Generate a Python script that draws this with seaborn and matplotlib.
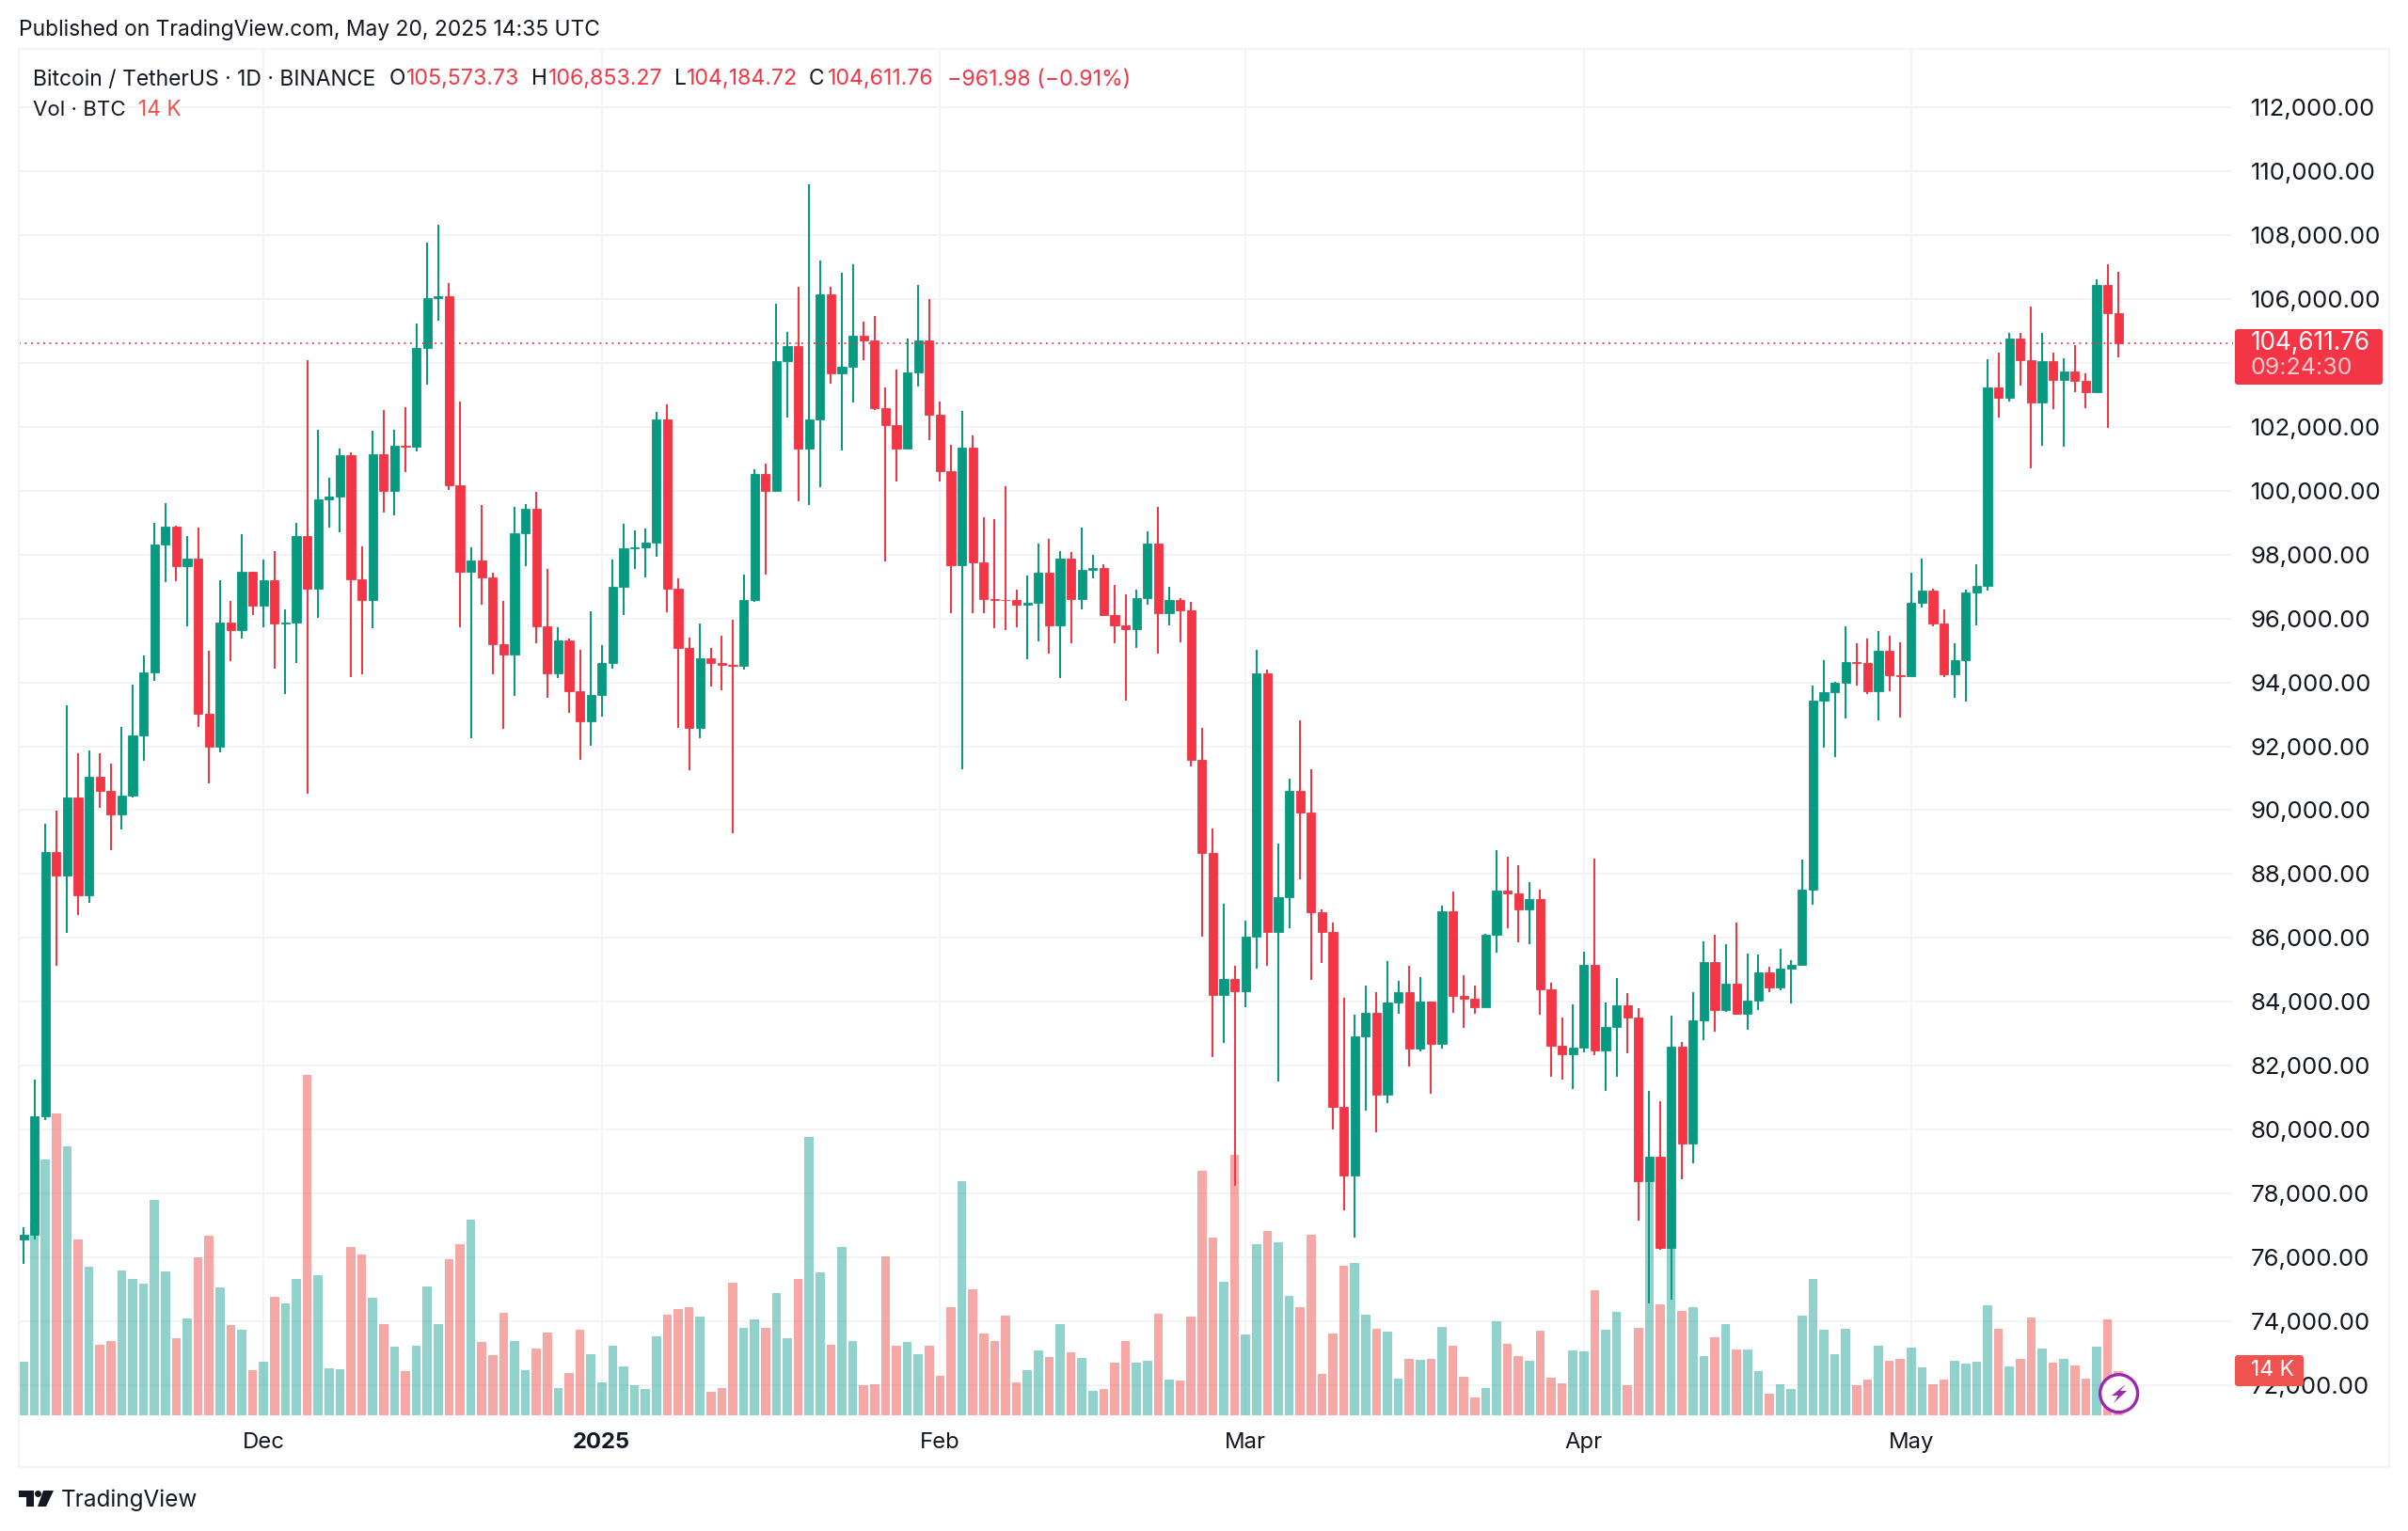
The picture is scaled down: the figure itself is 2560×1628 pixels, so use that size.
import matplotlib
matplotlib.use("Agg")
import matplotlib.pyplot as plt
import matplotlib.dates as mdates
from matplotlib.patches import FancyBboxPatch, Polygon, Ellipse, Rectangle
import numpy as np
import pandas as pd
import seaborn as sns

first_day = "2024-11-09"

opens = [76565,76717,80425,88681,87964,90405,87323,91046,90604,89871,90466,92327,94311,98324,98889,97653,97882,93014,91976,95868,95639,97470,96402,97195,95837,95866,98569,96936,99729,99804,101102,97241,96570,101132,99988,101407,101380,104459,106031,106090,100186,97455,97806,97272,95181,94860,98660,99423,95761,94296,95303,93731,92785,93594,94597,97000,98185,98240,98374,102245,96930,95069,92587,94745,94610,94560,94520,96566,100520,99993,104053,104539,101315,102245,106144,103675,103891,104863,104714,102583,102057,101315,103716,104714,102394,100600,97672,101342,97767,96607,96593,96566,96445,96485,97443,95770,97875,96607,97510,97578,96108,95784,95662,96647,98333,96175,96566,96256,91574,88656,84201,84698,84322,86052,94269,86173,87271,90597,89920,86789,86173,80710,78572,82907,83659,81086,83975,84306,82530,84005,82666,86820,84186,84096,83825,86097,87482,87392,86895,87226,84382,82621,82365,82560,85150,82485,83209,83900,83494,78392,79144,76285,82606,79566,83403,85255,83735,84562,83613,84036,84924,84442,85044,85150,87497,93438,93690,93984,94634,94610,93732,95002,94225,94200,96481,96880,95841,94246,94708,96817,97017,103240,102925,104772,104080,102757,104070,103460,103723,103429,103093,106430,105573.73]
closes = [76717,80425,88681,87964,90405,87323,91046,90604,89871,90466,92327,94311,98324,98889,97653,97882,93014,91976,95868,95639,97470,96402,97195,95837,95866,98569,96936,99729,99804,101102,97241,96570,101132,99988,101407,101380,104459,106031,106090,100186,97455,97806,97272,95181,94860,98660,99423,95761,94296,95303,93731,92785,93594,94597,97000,98185,98240,98374,102245,96930,95069,92587,94745,94610,94560,94520,96566,100520,99993,104053,104539,101315,102245,106144,103675,103891,104863,104714,102583,102057,101315,103716,104714,102394,100600,97672,101342,97767,96607,96593,96566,96445,96485,97443,95770,97875,96607,97510,97578,96108,95784,95662,96647,98333,96175,96566,96256,91574,88656,84201,84698,84322,86052,94269,86173,87271,90597,89920,86789,86173,80710,78572,82907,83659,81086,83975,84306,82530,84005,82666,86820,84186,84096,83825,86097,87482,87392,86895,87226,84382,82621,82365,82560,85150,82485,83209,83900,83494,78392,79144,76285,82606,79566,83403,85255,83735,84562,83613,84036,84924,84442,85044,85150,87497,93438,93690,93984,94634,94610,93732,95002,94225,94200,96481,96880,95841,94246,94708,96817,97017,103240,102925,104772,104080,102757,104070,103460,103723,103429,103093,106430,105573.73,104611.76]
highs = [76946,81555,89566,89978,93273,91793,91870,91793,91456,92602,93915,94845,99000,99607,98919,98584,98843,95000,97211,96554,98630,97470,97836,98111,96295,98996,104078,101895,100415,101331,101209,98263,101880,102521,101895,102628,105222,107771,108320,106489,102780,98233,99545,97424,96554,99484,99576,99957,97546,95731,95364,95028,96234,95177,97848,98967,98765,98832,102475,102717,97254,95393,95851,95069,95447,95959,97376,100681,100843,105847,104970,106387,109584,107210,106387,106819,107102,105281,105483,103230,103783,104768,106454,105996,102799,101449,102502,101733,99156,99116,100155,96903,97335,98360,98495,98117,98090,98846,97982,97713,97038,96769,96903,98725,99493,96984,96634,96512,92573,89423,87076,85119,86534,95007,94405,88957,90989,92810,91275,86895,86473,84111,83599,84517,84306,85285,84667,85119,84758,84005,87000,87452,84818,84517,86128,88761,88536,88280,87753,87512,84607,83509,83915,85571,88490,83990,84728,84261,83810,81221,80875,83569,82741,84291,85887,86097,85811,86489,85495,85465,85104,85646,85300,88445,93900,94697,94015,95747,95222,95379,95621,95463,95243,97426,97877,96933,96292,95212,96901,97709,104122,104332,104951,104951,105769,104940,104332,104153,104563,103670,106630,107081,106853.27]
lows = [75802,76565,80303,85125,86163,86712,87109,90070,88757,89398,90405,91549,94051,97134,97183,95746,92618,90833,91823,94662,95379,96112,95715,94418,93624,94601,90527,96020,98843,98690,94174,94265,95685,99316,99225,100598,101224,103315,105314,100018,95715,92251,96432,94265,92556,93578,97653,95227,93517,94143,93045,91564,92022,92924,94421,96121,97551,97281,97928,96202,92560,91238,92263,93882,93747,89282,94394,96512,97376,99952,102286,99669,99561,100127,103338,101260,102772,104094,102542,97794,100289,101315,103271,101571,100289,96161,91265,96161,96161,95703,95635,95716,94731,95298,94907,94138,95231,96283,97254,96067,95231,93423,95069,96431,94893,95797,95258,91372,86044,82260,82711,78241,83824,85044,85119,81492,86308,87828,84683,85210,79987,77458,76601,80589,79927,80815,83614,81974,82455,81131,82545,83644,83193,83614,83825,85540,86308,85857,85796,83584,81643,81552,81267,82425,82335,81206,81643,82380,77143,74557,76240,74666,78452,78948,82786,83057,83689,83584,83117,83727,84291,84351,83960,85150,87050,91947,91675,92861,93889,93627,92808,93732,92913,94151,96345,95747,94162,93511,93406,95778,96870,102285,102799,103303,100700,101403,102569,101372,103093,102600,103093,101970,104184.72]
volumes_k = [16.9,61,80.8,95.4,85.1,55.7,47.0,22.3,23.4,45.6,43.0,41.6,68.1,45.3,24.3,30.5,50.0,56.8,40.4,28.3,27.1,14.1,16.9,37.3,35.3,43.0,107.8,44.1,14.7,14.4,53.1,50.7,37.0,28.6,21.7,13.8,21.8,40.7,28.6,49.3,54.1,61.7,23.1,19.0,32.3,23.4,14.1,20.9,26.0,8.5,13.3,27.1,19.3,10.2,21.9,15.3,9.4,8.3,25.0,31.7,33.4,34.2,31.1,7.2,8.6,42.0,27.6,30.1,27.6,38.6,24.2,42.9,88.1,45.2,22.2,53.2,23.3,9.4,9.8,50.1,21.9,23.0,19.3,21.9,12.4,34.2,74.0,39.7,25.9,23.3,31.4,10.4,14.1,20.4,18.4,28.8,19.9,18.1,7.5,8.3,16.4,23.3,16.4,17.0,31.9,11.2,10.9,31.1,77.2,56.2,42.1,82.3,25.6,54.2,58.2,54.8,37.7,34.0,57.0,13.0,25.9,47.1,48.2,31.7,27.4,26.5,11.5,17.6,17.3,17.6,28.0,21.9,12.1,5.5,8.6,29.7,22.4,18.5,17.1,26.8,11.8,10.1,20.5,20.2,39.5,27.1,32.6,9.5,27.7,77,34.9,74,32.9,34.1,18.5,24.5,28.6,20.8,20.8,13.8,6.7,9.8,8.3,31.4,43.1,27.0,19.3,27.3,9.4,11.2,21.8,17.0,17.6,21.3,14.9,9.7,11.2,17.2,16.1,16.7,34.6,27.3,15.2,17.8,30.8,21.0,16.4,17.8,15.5,11.5,21.5,30.2,13.9]

price_ticks = [72000,74000,76000,78000,80000,82000,84000,86000,88000,90000,92000,94000,96000,98000,100000,102000,104000,106000,108000,110000,112000]
hidden_price_labels = [104000]  # covered by the last-price tag in the reference
month_ticks = ["2024-12-01","2025-01-01","2025-02-01","2025-03-01","2025-04-01","2025-05-01"]
month_labels = ["Dec","2025","Feb","Mar","Apr","May"]
last_price = 104611.76

GREEN, RED = "#089981", "#F23645"
VOL_GREEN, VOL_RED = "#26A69A", "#EF5350"
INK, GRID = "#131722", "#F3F4F6"
W, H = 2560, 1628

sns.set_theme(style="white")
plt.rcParams["font.family"] = ["Inter", "DejaVu Sans"]

dates = pd.date_range(first_day, periods=len(closes), freq="D")
frame = pd.DataFrame({
    "day": mdates.date2num(dates), "open": opens, "close": closes,
    "high": highs, "low": lows, "volume": volumes_k,
})
frame["direction"] = np.where(frame["close"] >= frame["open"], "up", "down")
frame["colour"] = frame["direction"].map({"up": GREEN, "down": RED})

fig = plt.figure(figsize=(W / 100, H / 100), dpi=100, facecolor="white")
L, R, T, B = 20, 2374, 52, 1504.5
rect = [L / W, 1 - B / H, (R - L) / W, (B - T) / H]
xlim = (frame["day"].iloc[0] - 0.431, frame["day"].iloc[0] + 202.5)
ylim = (71064, 113835)
px_per_k = 3.357

# grid + axis labels
base = fig.add_axes(rect, zorder=0)
base.set_xlim(xlim); base.set_ylim(ylim)
base.yaxis.tick_right()
base.set_yticks(price_ticks, ["" if p in hidden_price_labels else f"{p:,.2f}" for p in price_ticks])
base.set_xticks(mdates.date2num(pd.to_datetime(month_ticks)), month_labels)
base.tick_params(axis="y", length=0, pad=13.5, labelsize=18.5, labelcolor=INK)
base.tick_params(axis="x", length=0, pad=13, labelsize=17.2, labelcolor=INK)
for lab in base.get_xticklabels():
    if lab.get_text() == "2025":
        lab.set_fontweight("bold")
base.grid(True, color=GRID, linewidth=1.5)
sns.despine(ax=base, left=True, right=True, top=True, bottom=True)

# volume pane
vol = fig.add_axes(rect, zorder=1)
vol.patch.set_visible(False)
sns.barplot(data=frame, x="day", y="volume", hue="direction",
            palette={"up": VOL_GREEN, "down": VOL_RED}, native_scale=True,
            dodge=False, width=0.84, alpha=0.5, saturation=1, linewidth=0,
            legend=False, ax=vol)
vol.set_xlim(xlim); vol.set_ylim(0, (B - T) / px_per_k)
vol.axis("off")

# candles
ax = fig.add_axes(rect, zorder=2)
ax.patch.set_visible(False)
ax.vlines(frame["day"], frame["low"], frame["high"], colors=frame["colour"], linewidth=1.45)
ax.bar(frame["day"], frame["close"] - frame["open"], bottom=frame["open"], width=0.8,
       color=frame["colour"], edgecolor=frame["colour"], linewidth=0.6)
ax.axhline(last_price, color=RED, linewidth=1.3, linestyle=(0, (1, 2.6)))
ax.set_xlim(xlim); ax.set_ylim(ylim)
ax.axis("off")

# overlay in pixel coordinates
ov = fig.add_axes([0, 0, 1, 1], zorder=5)
ov.patch.set_visible(False)
ov.set_xlim(0, W); ov.set_ylim(H, 0); ov.axis("off")
ov.add_patch(Rectangle((20, 52), 2520, 1508, fill=False, edgecolor=GRID, linewidth=1.5))

def t(x, y, s, color=INK, size=16.7, **kw):
    ov.text(x, y, s, color=color, fontsize=size, va="center", ha=kw.pop("ha", "left"), **kw)

t(20, 31.5, "Published on TradingView.com, May 20, 2025 14:35 UTC", size=16.45)
t(35, 84.5, "Bitcoin / TetherUS · 1D · BINANCE", size=16.5)
t(35, 117, "Vol · BTC", size=16.1)
t(147, 117, "14 K", size=16.4, color=VOL_RED)
for x, s in [(414, "O"), (565, "H"), (717, "L"), (860, "C")]:
    t(x, 84.5, s, size=16.4)
for x, s in [(432, "105,573.73"), (583, "106,853.27"), (730, "104,184.72"),
             (880, "104,611.76"), (1007, "−961.98 (−0.91%)")]:
    t(x, 84.5, s, color=RED)

ov.add_patch(FancyBboxPatch((2376, 350), 157, 59, boxstyle="round,pad=0,rounding_size=3",
                            facecolor=RED, edgecolor="none"))
t(2393, 365, "104,611.76", color="white", size=18.8)
t(2393, 392, "09:24:30", color="#FBC8CC", size=18)
ov.add_patch(FancyBboxPatch((2376, 1441), 73, 33, boxstyle="round,pad=0,rounding_size=3",
                            facecolor=VOL_RED, edgecolor="none"))
t(2393, 1457, "14 K", color="white", size=16.5)

# lightning badge
ov.add_patch(Ellipse((2252.6, 1481.7), 40, 40, facecolor="white", edgecolor="#9C27B0", linewidth=2.4, zorder=6))
ov.add_patch(Polygon([(2260, 1472), (2245, 1484), (2252, 1484), (2247, 1492),
                      (2261, 1479), (2254, 1479)], closed=True, facecolor="#9C27B0", edgecolor="none", zorder=7))

# TradingView logo
ov.add_patch(Polygon([(20, 1585), (36, 1585), (36, 1602), (28, 1602), (28, 1592), (20, 1592)],
                     closed=True, facecolor=INK, edgecolor="none"))
ov.add_patch(Ellipse((40.5, 1588.5), 7, 7, facecolor=INK, edgecolor="none"))
ov.add_patch(Polygon([(46, 1585), (57, 1585), (49, 1602), (40, 1602)], closed=True, facecolor=INK, edgecolor="none"))
t(65, 1595, "TradingView", size=17.5)

fig.savefig("out.png", dpi=100)
